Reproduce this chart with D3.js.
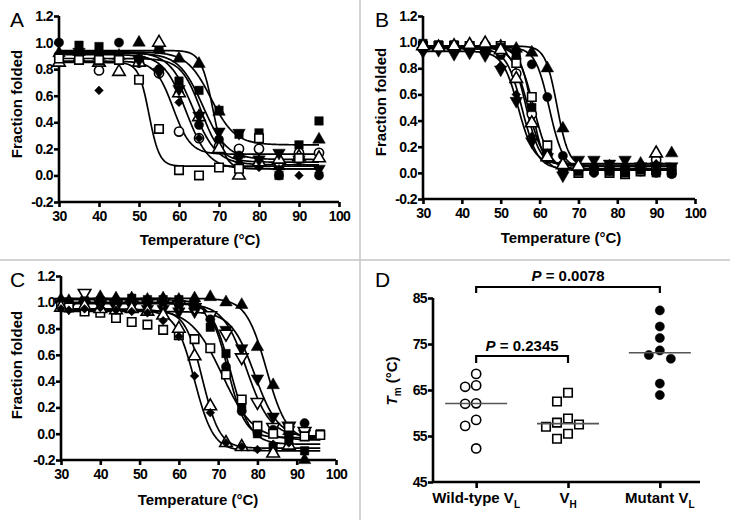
<!DOCTYPE html>
<html><head><meta charset="utf-8">
<script src="https://cdn.jsdelivr.net/npm/d3@7"></script>
<style>
body{margin:0;background:#fff}
svg{display:block}
text{font-family:"Liberation Sans",Arial,sans-serif}
</style>
</head><body>
<svg id="c" width="730" height="520"></svg>
<script>
// ---------- DATA ----------
const xTicks = [30,40,50,60,70,80,90,100];
const yTicks = [-0.2,0.0,0.2,0.4,0.6,0.8,1.0,1.2];

// Panel A : wild-type VL
const tempsA = [30,35,40,45,50,55,60,65,70,75,80,85,90,95];
const foldA = [
  [0.92,0.93,0.90,0.90,1.00,0.95,0.88,0.84,0.48,0.16,0.10,0.07,0.12,0.27],
  [null,0.98,0.97,0.88,0.86,0.95,0.71,0.64,0.49,0.31,0.32,0.00,0.23,0.41],
  [0.90,null,0.79,0.90,0.85,0.77,0.33,0.28,0.22,0.20,0.20,0.10,0.17,0.17],
  [1.00,0.90,0.92,1.00,0.88,0.80,0.62,0.38,0.27,0.15,0.10,0.00,0.12,0.00],
  [0.92,0.90,0.64,0.90,0.86,0.80,0.55,0.28,0.20,0.10,0.06,0.05,0.00,0.02],
  [0.85,0.88,0.85,0.78,0.85,1.00,0.62,0.44,0.20,0.00,0.10,0.12,0.14,0.13],
  [null,0.93,0.90,0.90,0.87,0.78,0.65,0.45,0.33,0.32,0.12,0.17,0.12,0.05],
  [0.88,0.87,0.87,0.87,0.72,0.35,0.04,0.00,0.06,0.05,0.28,null,0.13,null]
];
// fitted Boltzmann parameters: [top, bottom, Tm, slope]
const fitA = [
  [0.94,0.05,68.5,1.5],[0.93,0.23,68,3],[0.86,0.16,58.5,2.2],[0.93,0.08,63.5,3],
  [0.91,0.05,61.8,2.8],[0.88,0.10,65.5,2.5],[0.92,0.12,66,3],[0.85,0.07,52.5,1.3]
];

// Panel B : VH
const tempsB = [30,34,38,42,46,50,54,58,62,66,70,74,78,82,86,90,94];
const foldB = [
  [0.97,0.96,0.97,0.97,0.97,0.97,0.95,0.92,0.80,0.34,0.05,0.05,0.05,0.05,0.07,0.15,0.15],
  [0.98,0.97,0.97,0.97,0.95,0.90,0.88,0.83,0.58,0.13,0.02,0.00,0.01,0.02,0.01,0.00,-0.01],
  [0.97,0.97,0.97,0.97,0.96,0.97,0.84,0.58,0.21,0.03,0.00,null,0.00,-0.01,0.01,0.02,0.02],
  [0.95,0.96,0.95,0.97,0.98,0.93,0.76,0.45,0.14,0.06,0.03,null,null,null,null,0.10,null],
  [0.93,0.94,0.91,0.92,0.90,0.79,0.55,0.24,0.12,-0.02,0.10,0.10,0.07,0.10,0.05,0.05,0.05],
  [0.96,0.95,0.96,0.96,0.94,0.82,0.60,0.28,0.10,0.04,0.02,0.00,0.01,0.01,0.07,0.07,0.02],
  [0.99,0.98,0.98,0.97,0.96,0.96,0.90,0.50,0.15,0.03,0.01,0.02,0.01,0.00,0.02,0.00,0.00],
  [0.97,0.96,0.97,0.98,0.99,0.94,0.72,0.38,0.12,0.06,0.05,null,null,null,null,0.15,null]
];
const fitB = [
  [0.97,0.05,64.5,1.5],[0.96,0.03,62.5,1.8],[0.97,0.03,58.5,2],[0.96,0.05,57,2],
  [0.93,0.07,54.5,2],[0.95,0.03,55.5,2],[0.97,0.02,58,1.6],[0.96,0.06,56.5,1.8]
];

// Panel C : mutant VL
const tempsC = [30,32,36,40,44,48,52,56,60,64,68,72,76,80,84,88,92,96];
const foldC = [
  [1.02,1.01,1.03,1.04,1.03,1.03,1.02,1.03,1.02,1.03,1.04,1.00,0.98,0.66,0.37,0.02,-0.20,null],
  [0.98,0.96,1.00,0.98,0.96,0.98,0.95,0.95,0.93,0.93,0.90,0.79,0.65,0.42,0.13,0.03,0.00,null],
  [1.00,null,1.07,1.00,0.99,0.98,1.00,1.00,0.98,0.96,0.90,0.76,0.58,0.24,0.05,0.06,0.02,null],
  [1.00,1.00,1.01,1.01,1.00,1.03,1.02,1.02,1.02,1.00,0.81,0.61,0.20,0.00,-0.10,-0.07,-0.13,0.00],
  [1.00,1.00,1.00,1.00,1.01,1.00,1.00,1.00,0.98,0.97,0.87,0.51,0.17,0.01,0.03,-0.02,0.08,-0.01],
  [0.97,0.96,0.93,0.92,0.88,0.85,0.83,0.79,0.75,0.72,0.65,0.45,0.26,0.06,0.00,0.05,-0.02,-0.01],
  [0.96,null,0.97,0.95,0.94,0.95,0.93,0.90,0.80,0.59,0.21,-0.07,-0.10,null,-0.15,-0.09,null,null],
  [0.95,0.94,0.95,0.96,0.94,0.93,0.92,0.86,0.74,0.44,0.16,-0.07,-0.10,-0.12,-0.08,-0.07,null,null]
];
const fitC = [
  [1.03,-0.05,82.3,2.6],[0.93,-0.03,79.3,3],[0.99,-0.02,77.3,3],[1.02,-0.08,73.2,2.5],
  [1.00,-0.03,72.5,2.2],[0.95,-0.05,71,4],[0.94,-0.11,66,2.2],[0.94,-0.13,64,2.4]
];

// Panel D : Tm values
const catsD = ["Wild-type V_L","V_H","Mutant V_L"];
const tmWT  = [68.5,66.0,65.7,62.0,62.1,58.5,57.2,52.3];
const tmVH  = [64.4,62.5,58.8,57.9,57.5,57.0,55.5,54.4];
const tmMut = [82.3,78.8,76.3,73.6,72.6,71.8,66.4,63.9];
const dTicks = [45,55,65,75,85];
const pLabels = ["P = 0.2345","P = 0.0078"];

// ---------- STYLE (separate from data) ----------
const marksA = ["triangle","square","circle-open","circle","diamond","triangle-open","triangleDown","square-open"];
const marksB = ["triangle","circle","square-open","circle-open","triangleDown","diamond","square","triangle-open"];
const marksC = ["triangle","triangleDown","triangleDown-open","square","circle","square-open","triangle-open","diamond"];

const svg = d3.select("#c");
const GRID = "#c4c4c4";
svg.append("line").attr("x1",360).attr("x2",360).attr("y1",0).attr("y2",520).attr("stroke",GRID).attr("stroke-width",1.5);
svg.append("line").attr("x1",0).attr("x2",730).attr("y1",260).attr("y2",260).attr("stroke",GRID).attr("stroke-width",1.5);

function symbolPath(shape){
  const base = shape.replace("-open","");
  const m = {circle:[d3.symbolCircle,66,0], square:[d3.symbolSquare,72,0], triangle:[d3.symbolTriangle,68,0],
             triangleDown:[d3.symbolTriangle,68,180], diamond:[d3.symbolSquare,38,45]}[base];
  return {d:d3.symbol(m[0],m[1])(), rot:m[2], open:shape.endsWith("-open")};
}

function sig(p,T){ return p[1] + (p[0]-p[1])/(1+Math.exp((T-p[2])/p[3])); }

function styleAxis(g){
  g.selectAll("path,line").attr("stroke","#000").attr("stroke-width",2.6);
  g.selectAll("text").attr("font-size",14).attr("font-weight","bold").attr("fill","#000").attr("letter-spacing",-0.6);
}

function curvePanel(c){
  const x = d3.scaleLinear().domain([30,100]).range([c.x0,c.x1]);
  const y = d3.scaleLinear().domain([-0.2,1.2]).range([c.yb,c.yt]);
  const g = svg.append("g");
  g.append("g").attr("transform",`translate(0,${c.yb})`)
    .call(d3.axisBottom(x).tickValues(xTicks).tickSize(5).tickSizeOuter(0).tickPadding(4).tickFormat(d=>d))
    .call(styleAxis).call(a=>a.select(".domain").attr("d",`M${c.x0},0H${c.x1}`));
  g.append("g").attr("transform",`translate(${c.x0},0)`)
    .call(d3.axisLeft(y).tickValues(yTicks).tickSize(5).tickSizeOuter(0).tickPadding(1).tickFormat(d=>d.toFixed(1)))
    .call(styleAxis).call(a=>a.selectAll(".domain").attr("d",`M0,${c.yb}V${c.yt}`));
  // fitted curves
  const line = d3.line().x(d=>x(d[0])).y(d=>y(d[1]));
  c.fit.forEach(p=>{
    const pts = d3.range(30,c.tEnd+0.001,0.25).map(T=>[T,sig(p,T)]);
    g.append("path").attr("d",line(pts)).attr("fill","none").attr("stroke","#000").attr("stroke-width",1.7);
  });
  // data points
  c.fold.forEach((vals,i)=>{
    const s = symbolPath(c.marks[i]);
    vals.forEach((v,j)=>{
      if(v===null) return;
      g.append("path").attr("d",s.d)
        .attr("transform",`translate(${x(c.temps[j])},${y(v)}) rotate(${s.rot})`)
        .attr("fill",s.open?"#fff":"#000").attr("stroke","#000").attr("stroke-width",s.open?1.6:0.5);
    });
  });
  // labels
  svg.append("text").attr("x",c.lx).attr("y",c.ly).attr("font-size",21).text(c.id);
  svg.append("text").attr("transform",`translate(${c.yx},${c.yy}) rotate(-90)`).attr("text-anchor","middle")
    .attr("font-size",15).attr("font-weight","bold").text("Fraction folded");
  svg.append("text").attr("x",c.tx).attr("y",c.ty).attr("text-anchor","middle")
    .attr("font-size",15).attr("font-weight","bold").text("Temperature (°C)");
}

curvePanel({id:"A",temps:tempsA,fold:foldA,fit:fitA,marks:marksA,x0:59,x1:339,yb:202,yt:16,tEnd:95,
  lx:10,ly:27,yx:22,yy:104,tx:200,ty:245});
curvePanel({id:"B",temps:tempsB,fold:foldB,fit:fitB,marks:marksB,x0:423,x1:695,yb:199,yt:16,tEnd:94,
  lx:375,ly:27,yx:386,yy:102,tx:561,ty:243});
curvePanel({id:"C",temps:tempsC,fold:foldC,fit:fitC,marks:marksC,x0:61,x1:336,yb:460,yt:276,tEnd:96,
  lx:10,ly:287,yx:22,yy:365,tx:198,ty:505});

// ---------- Panel D ----------
(function(){
  const x = d3.scalePoint().domain(catsD).range([433,703]).padding(0.47);
  const y = d3.scaleLinear().domain([45,85]).range([482,298]);
  const g = svg.append("g");
  g.append("g").attr("transform","translate(0,482)")
    .call(d3.axisBottom(x).tickSize(6).tickSizeOuter(0).tickFormat(""))
    .call(styleAxis).call(a=>a.select(".domain").attr("d","M433,0H700"));
  g.append("g").attr("transform","translate(433,0)")
    .call(d3.axisLeft(y).tickValues(dTicks).tickSize(5).tickSizeOuter(0).tickPadding(1))
    .call(styleAxis).call(a=>a.select(".domain").attr("d","M0,482V298"));
  // category labels with subscripts
  catsD.forEach(c=>{
    const [main,sub] = c.split("_");
    const t = g.append("text").attr("x",x(c)).attr("y",503).attr("text-anchor","middle")
      .attr("font-size",15).attr("font-weight","bold");
    t.append("tspan").text(main);
    t.append("tspan").attr("dy",5).attr("font-size",10).text(sub);
  });
  // y label
  const yl = svg.append("text").attr("transform","translate(397,381) rotate(-90)").attr("text-anchor","middle")
    .attr("font-size",15).attr("font-weight","bold");
  yl.append("tspan").attr("font-style","italic").text("T");
  yl.append("tspan").attr("dy",4).attr("font-size",10).text("m");
  yl.append("tspan").attr("dy",-4).text(" (°C)");
  svg.append("text").attr("x",375).attr("y",287).attr("font-size",21).text("D");

  // dodge scatter
  const groups = [[tmWT,"circle-open"],[tmVH,"square-open"],[tmMut,"circle"]];
  const slotW = 11, minGap = 9;
  groups.forEach(([vals,shape],gi)=>{
    const cx = x(catsD[gi]);
    const placed = [];
    const sorted = vals.slice().sort((a,b)=>b-a);
    sorted.forEach(v=>{
      const py = y(v);
      for(const s of [0,-1,1,-2,2,-3,3]){
        if(!placed.some(p=>p.s===s && Math.abs(p.y-py)<minGap)){ placed.push({s,y:py}); break; }
      }
    });
    const sp = symbolPath(shape);
    placed.forEach(p=>{
      g.append("path").attr("d",sp.d).attr("transform",`translate(${cx+p.s*slotW},${p.y})`)
        .attr("fill",sp.open?"#fff":"#000").attr("stroke","#000").attr("stroke-width",sp.open?1.6:0.5);
    });
    const med = d3.median(vals);
    g.append("line").attr("x1",cx-31).attr("x2",cx+31).attr("y1",y(med)).attr("y2",y(med))
      .attr("stroke","#555").attr("stroke-width",1.6);
  });
  // significance brackets
  const br = [[0,1,356,363,351],[0,2,287,293,281]];
  br.forEach(([a,b,top,leg,ty],i)=>{
    const xa = x(catsD[a]), xb = x(catsD[b]);
    g.append("path").attr("d",`M${xa},${leg}V${top}H${xb}V${leg}`).attr("fill","none")
      .attr("stroke","#000").attr("stroke-width",2.2);
    const t = g.append("text").attr("x",(xa+xb)/2).attr("y",ty).attr("text-anchor","middle")
      .attr("font-size",15).attr("font-weight","bold");
    t.append("tspan").attr("font-style","italic").text(pLabels[i].slice(0,1));
    t.append("tspan").text(pLabels[i].slice(1));
  });
})();
</script>
</body></html>
